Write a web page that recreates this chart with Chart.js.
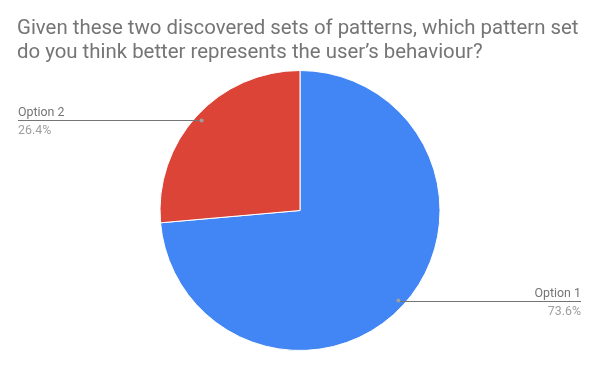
<!DOCTYPE html>
<html>
<head>
<meta charset="utf-8">
<script src="https://cdn.jsdelivr.net/npm/chart.js@4"></script>
<style>
  html, body { margin: 0; padding: 0; background: #fff; }
  #wrap { width: 600px; height: 371px; position: relative; }
</style>
</head>
<body>
<div id="wrap"><canvas id="pieChart"></canvas></div>
<script>
// data
const titleLines = [
  "Given these two discovered sets of patterns, which pattern set",
  "do you think better represents the user\u2019s behaviour?"
];
const labels = ["Option 1", "Option 2"];
const values = [73.6, 26.4];
const colors = ["#4285f4", "#db4437"];

/* =========================
   TITLE + LEADER LABELS
========================= */

const sheetLabels = {
  id: "sheetLabels",
  afterDraw(chart) {
    const ctx = chart.ctx;
    ctx.save();

    // title
    ctx.fillStyle = "#757575";
    ctx.font = "20.4px Roboto";
    ctx.textAlign = "left";
    ctx.textBaseline = "alphabetic";
    titleLines.forEach((t, i) => ctx.fillText(t, 17, 34 + i * 23.5));

    // leader lines from each slice
    const total = values.reduce((a, b) => a + b, 0);
    const meta = chart.getDatasetMeta(0);
    meta.data.forEach((arc, i) => {
      const mid = (arc.startAngle + arc.endAngle) / 2;
      const r = arc.outerRadius * 0.953;
      const px = arc.x + Math.cos(mid) * r;
      const py = arc.y + Math.sin(mid) * r;
      const right = Math.cos(mid) > 0;
      const endX = right ? 581 : 18;

      ctx.strokeStyle = "#757575";
      ctx.lineWidth = 1;
      ctx.beginPath();
      ctx.moveTo(px, Math.round(py) + 0.5);
      ctx.lineTo(endX, Math.round(py) + 0.5);
      ctx.stroke();

      ctx.fillStyle = "#9e9e9e";
      ctx.beginPath();
      ctx.arc(px, py, 2, 0, Math.PI * 2);
      ctx.fill();

      ctx.textAlign = right ? "right" : "left";
      ctx.font = "12.4px Roboto";
      ctx.fillStyle = "#757575";
      ctx.fillText(labels[i], endX, Math.round(py) - 4);
      ctx.fillStyle = "#9e9e9e";
      ctx.fillText((values[i] / total * 100).toFixed(1) + "%", endX, Math.round(py) + 14);
    });

    ctx.restore();
  }
};

/* =========================
   CHART
========================= */

new Chart(document.getElementById("pieChart"), {
  type: "pie",
  data: {
    labels: labels,
    datasets: [{
      data: values,
      backgroundColor: colors,
      borderColor: "#ffffff",
      borderWidth: 1
    }]
  },
  options: {
    responsive: true,
    maintainAspectRatio: false,
    animation: false,
    layout: { padding: { top: 70, bottom: 20, left: 0, right: 0 } },
    plugins: {
      legend: { display: false },
      title: { display: false },
      tooltip: { enabled: false }
    }
  },
  plugins: [sheetLabels]
});
</script>
</body>
</html>
